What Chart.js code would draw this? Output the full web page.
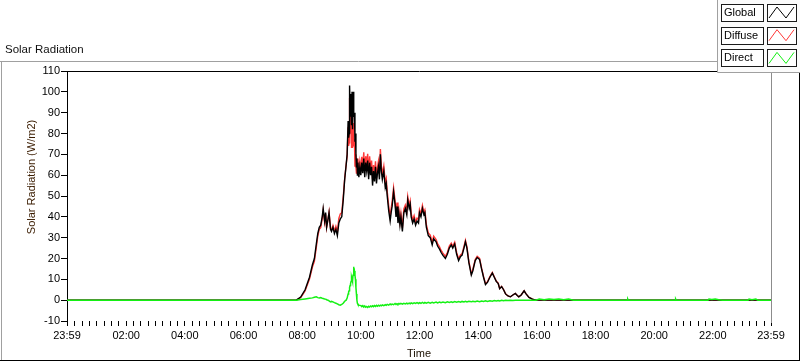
<!DOCTYPE html>
<html>
<head>
<meta charset="utf-8">
<script src="https://cdn.jsdelivr.net/npm/chart.js@4/dist/chart.umd.min.js"></script>
<style>
  html, body { margin: 0; padding: 0; background: #fff; }
</style>
</head>
<body>
<canvas id="solarChart" width="800" height="361"></canvas>
<script>
// time of day in minutes (-1 = 23:59 of the day before)
const times = [
  -1, 468, 477, 486, 495, 501, 505, 509, 512, 515, 518, 521, 523, 526, 528, 530, 533, 535, 538, 540,
  543, 546, 549, 552, 555, 558, 561, 564, 567, 570, 572, 574, 575, 576, 577, 578, 579, 580, 581, 582,
  583, 584, 585, 586, 587, 588, 589, 590, 591, 592, 593, 594, 596, 598, 600, 602, 604, 606, 608, 610,
  612, 614, 616, 618, 620, 622, 624, 626, 628, 630, 632, 634, 636, 638, 640, 642, 644, 647, 650, 652,
  654, 657, 660, 662, 664, 667, 670, 672, 674, 676, 678, 680, 682, 685, 688, 691, 694, 696, 699, 701,
  703, 706, 709, 712, 715, 718, 720, 723, 726, 729, 731, 734, 738, 742, 746, 749, 754, 757, 761, 764,
  768, 773, 777, 781, 785, 788, 792, 796, 800, 804, 807, 811, 814, 817, 821, 826, 829, 834, 838, 843,
  847, 851, 855, 859, 864, 869, 873, 877, 881, 884, 888, 892, 896, 901, 906, 911, 916, 920, 923, 928,
  934, 938, 944, 951, 958, 965, 975, 985, 995, 1005, 1015, 1025, 1035, 1145, 1146, 1147, 1243, 1244, 1245, 1310,
  1312, 1318, 1325, 1332, 1340, 1392, 1394, 1400, 1408, 1412, 1439
];

const globalVals = [
  0, 0, 1.5, 5, 11, 17, 20, 27, 32, 35, 36, 40, 44, 38, 42, 35, 39, 42, 34, 33,
  35, 32, 34, 31, 37, 39, 40, 48, 58, 65, 70, 86, 78, 80, 103, 92, 88, 99, 84, 100,
  82, 97, 100, 88, 90, 76, 80, 70, 64, 68, 60, 66, 59, 64, 60, 66, 61, 68, 59, 66,
  62, 67, 58, 66, 60, 64, 55, 62, 57, 64, 56, 61, 64, 58, 70, 62, 58, 62, 54, 56,
  50, 43, 38, 42, 45, 52, 46, 40, 45, 37, 41, 36, 40, 33, 42, 44, 41, 48, 44, 46,
  40, 37, 39, 36, 38, 37, 42, 40, 44, 41, 42, 35, 31, 30, 26.5, 29.5, 28, 26, 24.5, 23,
  21.5, 20, 22, 25, 26.5, 25, 27, 22, 19, 21, 21.5, 25, 28, 25, 18, 12, 14, 19, 20.5, 19.5,
  15, 11, 7.5, 8.5, 11, 13, 11, 9, 8, 5.5, 6.5, 5, 3, 2, 1.6, 2.5, 3.2, 2.2, 1.6, 2.5,
  4.5, 3, 1.3, 0.5, 0, 0, 0, 0, 0, 0, 0, 0, 0, 0, 0, 0, 0, 0, 0, 0,
  0, 0, 0, 0, 0, 0, 0, 0, 0, 0, 0
];

const diffuseVals = [
  0, 0, 1.2, 4.4, 10.1, 15.9, 18.6, 25.4, 30.8, 34, 34.8, 39.1, 43.2, 37.4, 41.5, 34.8, 39, 42.3, 34.8, 33.6,
  35.8, 33.2, 35.5, 32.8, 39.2, 41.4, 42, 49.5, 58.5, 65, 69, 83, 74, 75.5, 97, 85, 80, 90, 73, 90,
  73, 85, 84, 75, 76, 64, 70, 64, 61, 68, 61.5, 68, 61.4, 66.5, 62.6, 68.8, 63.8, 71, 62, 69.1,
  65.2, 70.3, 61.2, 69, 63.1, 67, 58, 64.9, 59.8, 66.7, 58.6, 63.7, 66.6, 60.5, 72.6, 64.5, 60.5, 64.4, 56.4, 58.3,
  52.2, 45.3, 40, 44.1, 47.2, 54, 47.8, 42, 46.9, 38.8, 42.8, 37.7, 41.8, 34.6, 43.8, 45.6, 42.7, 49.7, 45.5, 47.6,
  41.6, 38.5, 40.6, 37.6, 39.4, 38.5, 43.5, 41.4, 45.5, 42.3, 43.3, 36.4, 32.3, 31.2, 27.8, 30.7, 29.1, 27.2, 25.6, 24,
  22.6, 21, 22.9, 26, 27.4, 25.9, 27.8, 22.9, 19.8, 21.8, 22.2, 25.8, 28.7, 25.7, 18.6, 12.7, 14.6, 19.5, 21, 20,
  15.4, 11.4, 7.9, 8.8, 11.3, 13.3, 11.2, 9.2, 8.2, 5.6, 6.6, 5.1, 3.1, 2, 1.6, 2.5, 3.2, 2.2, 1.6, 2.5,
  4.5, 3, 1.3, 0.5, 0, 0, 0, 0, 0, 0, 0, 0, 0, 0, 0, 0, 0, 0, 0, 0,
  0, 0, 0, 0, 0, 0, 0, 0, 0, 0, 0
];

const directVals = [
  0, 0, 0.3, 0.6, 0.9, 1.1, 1.4, 1.6, 1.2, 1.0, 1.2, 0.9, 0.8, 0.6, 0.5, 0.2, 0, -0.3, -0.8, -0.6,
  -0.8, -1.2, -1.5, -1.8, -2.2, -2.4, -2.0, -1.5, -0.5, 0, 1, 3, 4, 4.5, 6, 7, 8, 9, 11, 10,
  9, 12, 16, 13, 14, 12, 10, 6, 3, 0, -1.5, -2, -2.4, -2.5, -2.6, -3.1, -2.6, -3.3, -2.8, -3.4,
  -3.0, -3.5, -2.9, -3.3, -2.8, -3.2, -2.7, -3.1, -2.6, -3.0, -2.5, -2.9, -2.4, -2.8, -2.4, -2.7, -2.3, -2.6, -2.2, -2.5,
  -2.0, -2.4, -1.8, -2.2, -1.9, -2.2, -1.6, -2.1, -1.7, -2.0, -1.6, -1.9, -1.5, -1.9, -1.5, -1.8, -1.4, -1.8, -1.4, -1.7,
  -1.3, -1.7, -1.3, -1.6, -1.2, -1.6, -1.2, -1.5, -1.1, -1.5, -1.1, -1.4, -1.0, -1.4, -1.0, -1.3, -0.9, -1.3, -0.9, -1.2,
  -0.9, -1.2, -0.8, -1.1, -0.8, -1.1, -0.7, -1.0, -0.7, -1.0, -0.6, -0.9, -0.6, -0.9, -0.5, -0.8, -0.5, -0.7, -0.4, -0.7,
  -0.4, -0.6, -0.3, -0.6, -0.3, -0.5, -0.2, -0.4, -0.2, -0.4, -0.1, -0.3, -0.1, -0.2, 0, -0.1, 0, 0, 0, 0,
  0, 0, 0, 0, 0, 0.5, 0.2, 0.6, 0.3, 0.5, 0.2, 0.5, 0, 0, 0.5, 0, 0, 0.5, 0, 0,
  0.5, 0.3, 0.6, 0.2, 0, 0, 0.5, 0.2, 0.5, 0, 0
];

const seriesNames = ["Global", "Diffuse", "Direct"];
const seriesColors = ["#000000", "#ff3838", "#14f014"];

// x axis labels (minutes -> text)
const xLabelMinutes = [-1, 120, 240, 360, 480, 600, 720, 840, 960, 1080, 1200, 1320, 1439];
const xLabels = ["23:59", "02:00", "04:00", "06:00", "08:00", "10:00", "12:00", "14:00", "16:00", "18:00", "20:00", "22:00", "23:59"];

const yMin = -10, yMax = 110, yStep = 10;

const FONT = "'Liberation Sans', Arial, sans-serif";

function pts(vals) {
  return times.map((t, i) => ({ x: t, y: vals[i] }));
}

// every 15 minutes plus the two edges
const xTickValues = [-1];
for (let m = 15; m < 1439; m += 15) xTickValues.push(m);
xTickValues.push(1439);

//============================== FRAME / LEGEND ===========================
const framePlugin = {
  id: "frame",
  afterDraw(chart) {
    const ctx = chart.ctx;
    const a = chart.chartArea;
    ctx.save();

    // outer panel
    ctx.lineWidth = 1;
    ctx.strokeStyle = "#a0a0a0";
    ctx.beginPath();
    ctx.moveTo(0, 61.5); ctx.lineTo(717, 61.5);
    ctx.moveTo(1.5, 61); ctx.lineTo(1.5, 361);
    ctx.stroke();
    ctx.strokeStyle = "#000";
    ctx.beginPath();
    ctx.moveTo(0, 360.5); ctx.lineTo(800, 360.5);
    ctx.moveTo(799.5, 72); ctx.lineTo(799.5, 361);
    ctx.stroke();

    // plot frame top and right
    ctx.strokeStyle = "#000";
    ctx.beginPath();
    ctx.moveTo(a.left, a.top + 0.5); ctx.lineTo(a.right + 1, a.top + 0.5);
    ctx.stroke();
    ctx.strokeStyle = "#8c8c8c";
    ctx.beginPath();
    ctx.moveTo(a.right + 0.5, a.top); ctx.lineTo(a.right + 0.5, a.bottom + 2);
    ctx.stroke();

    // texts
    ctx.fillStyle = "#111";
    ctx.font = "11.5px " + FONT;
    ctx.textAlign = "left";
    ctx.textBaseline = "middle";
    ctx.fillText("Solar Radiation", 5, 50);

    ctx.fillStyle = "#1a0f00";
    ctx.font = "11px " + FONT;
    ctx.textAlign = "center";
    ctx.fillText("Time", (a.left + a.right) / 2, 354);

    ctx.save();
    ctx.translate(32, 177);
    ctx.rotate(-Math.PI / 2);
    ctx.fillStyle = "#3a1c00";
    ctx.fillText("Solar Radiation (W/m2)", 0, 0);
    ctx.restore();

    // legend panel
    ctx.fillStyle = "#fbfbfb";
    ctx.fillRect(717, 0, 83, 72);
    ctx.strokeStyle = "#a0a0a0";
    ctx.beginPath();
    ctx.moveTo(717.5, 0); ctx.lineTo(717.5, 72.5); ctx.lineTo(800, 72.5);
    ctx.stroke();

    chart.data.datasets.forEach((ds, i) => {
      const top = 4 + i * 22.7;
      ctx.fillStyle = "#fff";
      ctx.fillRect(721, top, 42, 17);
      ctx.fillRect(767, top, 29, 17);
      ctx.strokeStyle = "#1a1a1a";
      ctx.strokeRect(721.5, Math.round(top) + 0.5, 42, 17);
      ctx.strokeRect(767.5, Math.round(top) + 0.5, 29, 17);
      ctx.fillStyle = "#000";
      ctx.font = "11px " + FONT;
      ctx.textAlign = "left";
      ctx.fillText(ds.label, 724, top + 9);
      ctx.strokeStyle = ds.borderColor;
      ctx.beginPath();
      ctx.moveTo(769, top + 14);
      ctx.lineTo(777, top + 3);
      ctx.lineTo(786, top + 14);
      ctx.lineTo(794, top + 3);
      ctx.stroke();
    });

    ctx.restore();
  }
};

const solar_config = {
  type: "line",
  data: {
    datasets: [
      { label: seriesNames[0], data: pts(globalVals), borderColor: seriesColors[0], borderWidth: 1.4, order: 1 },
      { label: seriesNames[1], data: pts(diffuseVals), borderColor: seriesColors[1], borderWidth: 1.4, order: 2 },
      { label: seriesNames[2], data: pts(directVals), borderColor: seriesColors[2], borderWidth: 1.5, order: 0 }
    ]
  },
  options: {
    responsive: false,
    maintainAspectRatio: false,
    animation: false,
    parsing: false,
    elements: { point: { radius: 0 }, line: { tension: 0 } },
    layout: { padding: { left: 0, top: 71, right: 29, bottom: 0 } },
    plugins: { legend: { display: false }, tooltip: { enabled: false } },
    scales: {
      x: {
        type: "linear",
        min: -1,
        max: 1439,
        afterBuildTicks: (scale) => { scale.ticks = xTickValues.map(v => ({ value: v })); },
        afterFit: (scale) => { scale.height = 40; },
        border: { display: false },
        grid: { drawOnChartArea: false, drawTicks: true, tickLength: 5, color: "#000" },
        ticks: {
          autoSkip: false,
          maxRotation: 0,
          padding: 3,
          color: "#000",
          font: { family: FONT, size: 11 },
          callback: (v) => {
            const k = xLabelMinutes.indexOf(v);
            return k >= 0 ? xLabels[k] : "";
          }
        }
      },
      y: {
        min: yMin,
        max: yMax,
        afterFit: (scale) => { scale.width = 67; },
        border: { display: true, color: "#000", width: 1 },
        grid: { drawOnChartArea: false, drawTicks: true, tickLength: 6, color: "#000" },
        ticks: {
          stepSize: yStep,
          padding: 1,
          color: "#000",
          font: { family: FONT, size: 11 }
        }
      }
    }
  },
  plugins: [framePlugin]
};

const solarChart = new Chart(document.getElementById("solarChart").getContext("2d"), solar_config);
</script>
</body>
</html>
